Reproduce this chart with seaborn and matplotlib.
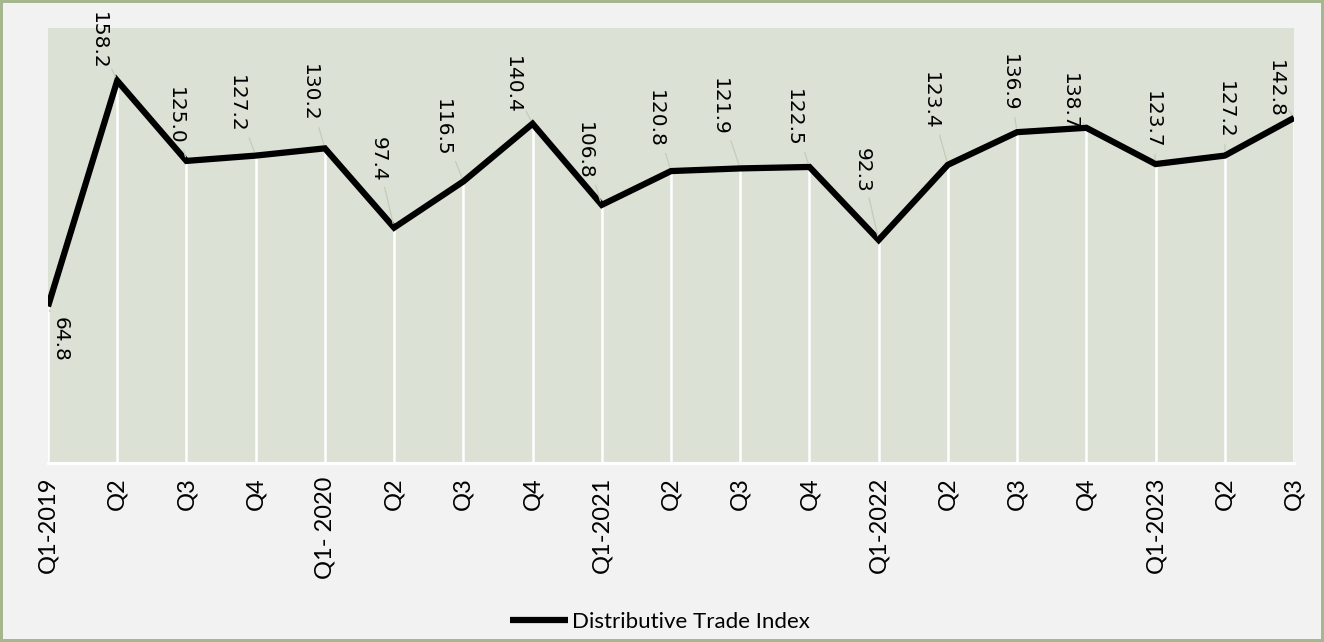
import matplotlib
matplotlib.use("Agg")
import matplotlib.pyplot as plt
import seaborn as sns
import pandas as pd
import numpy as np

# ---- data ----
quarters = ["Q1-2019", "Q2", "Q3", "Q4",
            "Q1- 2020", "Q2", "Q3", "Q4",
            "Q1-2021", "Q2", "Q3", "Q4",
            "Q1-2022", "Q2", "Q3", "Q4",
            "Q1-2023", "Q2", "Q3"]
index_values = [64.8, 158.2, 125.0, 127.2,
                130.2, 97.4, 116.5, 140.4,
                106.8, 120.8, 121.9, 122.5,
                92.3, 123.4, 136.9, 138.7,
                123.7, 127.2, 142.8]
series_name = "Distributive Trade Index"

# label offsets (pixels, x right / y down) as placed in the original
label_offsets = [(12, 33), (-19, -40), (-11, -45), (-19, -52),
                 (-16, -55), (-16, -68), (-21, -54), (-20, -39),
                 (-17, -54), (-16, -52), (-21, -62), (-16, -49),
                 (-16, -70), (-18, -64), (-8, -49), (-17, -26),
                 (-3, -44), (1, -46), (-19, -29)]

df = pd.DataFrame({"pos": np.arange(len(quarters)), "value": index_values})

W, H = 1324, 642
fig = plt.figure(figsize=(W / 100, H / 100), dpi=100)
fig.patch.set_facecolor("#f2f2f2")
fig.patch.set_edgecolor("#a6b68f")
fig.patch.set_linewidth(3)

ax = fig.add_axes([48 / W, 1 - 463 / H, (1294 - 48) / W, (463 - 28) / H])
ax.set_facecolor("#dce1d5")

# drop lines
ax.vlines(df["pos"], 0, df["value"], colors="white", linewidth=1.8, zorder=2)

sns.lineplot(data=df, x="pos", y="value", ax=ax, color="black",
             linewidth=4.5, label=series_name, zorder=3,
             solid_joinstyle="miter", solid_capstyle="butt")

ax.set_xlim(0, len(quarters) - 1)
ax.set_ylim(0, 180)
ax.set_yticks([])
ax.set_xticks(df["pos"])
ax.set_xticklabels(quarters, rotation=90, va="top", ha="center",
                   fontsize=17, family=["Lato", "DejaVu Sans"], color="black")
ax.tick_params(axis="x", length=0, pad=10)
ax.set_xlabel("")
ax.set_ylabel("")
for s in ["top", "left", "right"]:
    ax.spines[s].set_visible(False)
ax.spines["bottom"].set_color("white")
ax.spines["bottom"].set_linewidth(2.2)

for i, (v, (dx, dy)) in enumerate(zip(index_values, label_offsets)):
    ax.annotate(f"{v:.1f}", xy=(i, v), xytext=(dx, -dy),
                textcoords="offset pixels", rotation=270,
                ha="center", va="center", fontsize=14.5,
                fontfamily=["DejaVu Sans"], color="black", zorder=4,
                annotation_clip=False,
                arrowprops=dict(arrowstyle="-", color="#c3ccb8", lw=0.9,
                                shrinkA=2, shrinkB=3))

leg = ax.legend(loc="center", bbox_to_anchor=(660 / W, 1 - 622 / H),
                bbox_transform=fig.transFigure, frameon=False,
                prop={"family": ["Lato", "DejaVu Sans"], "size": 16},
                handlelength=2.6, handletextpad=0.2)

fig.savefig("out.png", dpi=100, facecolor=fig.get_facecolor(),
            edgecolor=fig.get_edgecolor())
